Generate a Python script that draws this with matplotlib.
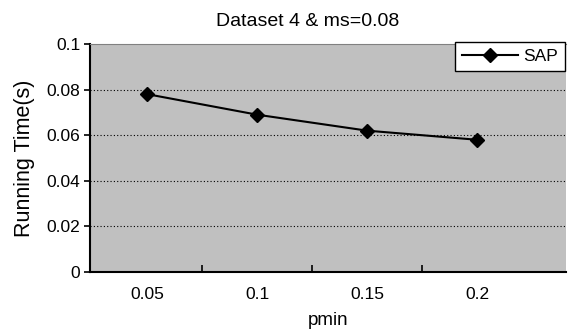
import matplotlib
matplotlib.use("Agg")
import matplotlib.pyplot as plt

plt.rcParams['font.family'] = ['Liberation Sans', 'DejaVu Sans']

# data
pmin = ["0.05", "0.1", "0.15", "0.2"]
sap_time = [0.078, 0.069, 0.062, 0.058]
y_ticks = [0, 0.02, 0.04, 0.06, 0.08, 0.1]
y_labels = ["0", "0.02", "0.04", "0.06", "0.08", "0.1"]

fig = plt.figure(figsize=(5.68, 3.30), dpi=100)
ax = fig.add_axes([90/568, 1-272/330, 476/568, 228/330])
ax.set_facecolor("#c0c0c0")

x = list(range(len(pmin)))
ax.plot(x, sap_time, color="black", marker="D", markersize=7.5, linewidth=1.5,
        label="SAP", zorder=3)

ax.set_ylim(0, 0.1)
ax.set_xlim(-0.52, 3.81)
ax.set_yticks(y_ticks)
ax.set_yticklabels(y_labels, fontsize=12.5)
ax.set_xticks(x)
ax.set_xticklabels(pmin, fontsize=12.5)
ax.tick_params(axis="x", which="major", length=0, pad=11)
ax.set_xticks([0.5, 1.5, 2.5], minor=True)
ax.tick_params(axis="x", which="minor", direction="in", length=5, width=1.2)
ax.tick_params(axis="y", direction="out", length=4, width=1.2, pad=3)

for v in y_ticks[1:-1]:
    ax.axhline(v, color="black", linestyle=(0, (1, 2)), linewidth=0.8, zorder=1)

ax.spines["left"].set_linewidth(1.5)
ax.spines["bottom"].set_linewidth(1.5)
ax.spines["top"].set_color("#808080")
ax.spines["right"].set_visible(False)

ax.set_title("Dataset 4 & ms=0.08", fontsize=14, pad=13, x=0.458)
ax.set_xlabel("pmin", fontsize=13.5, labelpad=7)
ax.set_ylabel("Running Time(s)", fontsize=15.5, labelpad=8)

leg = ax.legend(loc="upper left", bbox_to_anchor=(455/568, 1-42/330),
                bbox_transform=fig.transFigure, fontsize=12.5, frameon=True,
                fancybox=False, edgecolor="black", framealpha=1,
                borderpad=0.4, handlelength=3.2, handletextpad=0.35,
                borderaxespad=0)
leg.get_frame().set_linewidth(1.0)

plt.savefig("out.png", dpi=100)
